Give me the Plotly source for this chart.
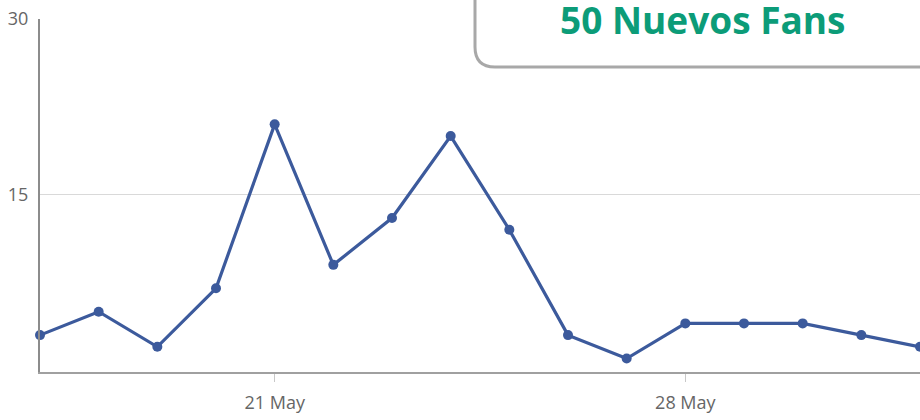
import plotly.graph_objects as go

dates = ["2013-05-17", "2013-05-18", "2013-05-19", "2013-05-20", "2013-05-21",
         "2013-05-22", "2013-05-23", "2013-05-24", "2013-05-25", "2013-05-26",
         "2013-05-27", "2013-05-28", "2013-05-29", "2013-05-30", "2013-05-31",
         "2013-06-01"]
fans = [3, 5, 2, 7, 21, 9, 13, 20, 12, 3, 1, 4, 4, 4, 3, 2]
y_ticks = [15, 30]
x_ticks = ["2013-05-21", "2013-05-28"]
x_tick_labels = ["21 May", "28 May"]
box_text = "50 Nuevos Fans"

W, H = 920, 420
L, R, T, B = 40, 0, 19, 48
PW, PH = W - L - R, H - T - B


def px(x):
    return (x - L) / PW


def py(y):
    return (H - B - y) / PH


fig = go.Figure()
fig.add_trace(go.Scatter(
    x=dates, y=fans, mode="lines+markers",
    line=dict(color="#3c5a9c", width=3.2),
    marker=dict(color="#3c5a9c", size=10),
    cliponaxis=False, hoverinfo="skip",
))

x0, x1 = px(475), px(950)
yb, yt = py(67), py(-20)
dx, dy = 20 / PW, 20 / PH
path = (f"M {x0},{yt} L {x0},{yb + dy} Q {x0},{yb} {x0 + dx},{yb} "
        f"L {x1},{yb} L {x1},{yt} Z")

fig.update_layout(
    width=W, height=H,
    margin=dict(l=L, r=R, t=T, b=B, autoexpand=False),
    paper_bgcolor="white", plot_bgcolor="white",
    showlegend=False,
    font=dict(family="Open Sans", size=18, color="#666666"),
    xaxis=dict(
        range=[dates[0], dates[-1]],
        tickvals=x_ticks, ticktext=x_tick_labels,
        showgrid=False, zeroline=False, automargin=False,
        showline=True, linecolor="#a0a0a0", linewidth=2,
        ticks="outside", ticklen=8, tickcolor="#c8c8c8", tickwidth=1,
        ticklabelstandoff=5,
        tickfont=dict(size=18, color="#666666"),
    ),
    yaxis=dict(
        range=[-0.15, 30],
        tickvals=y_ticks,
        showgrid=True, gridcolor="#d9d9d9", gridwidth=1,
        zeroline=False, automargin=False,
        showline=True, linecolor="#8c8c8c", linewidth=2,
        ticks="", ticklabelstandoff=6,
        tickfont=dict(size=18, color="#666666"),
    ),
    shapes=[dict(type="path", xref="paper", yref="paper", path=path,
                 line=dict(color="#a8a8a8", width=3), fillcolor="white",
                 layer="above")],
    annotations=[dict(x=px(703), y=py(19), xref="paper", yref="paper",
                      text=f"<b>{box_text}</b>", showarrow=False,
                      xanchor="center", yanchor="middle",
                      font=dict(family="Open Sans", size=37, color="#0c9c78"))],
)

fig.write_html("out.html", config={"displayModeBar": False},
               post_script="document.body.style.margin='0';")
